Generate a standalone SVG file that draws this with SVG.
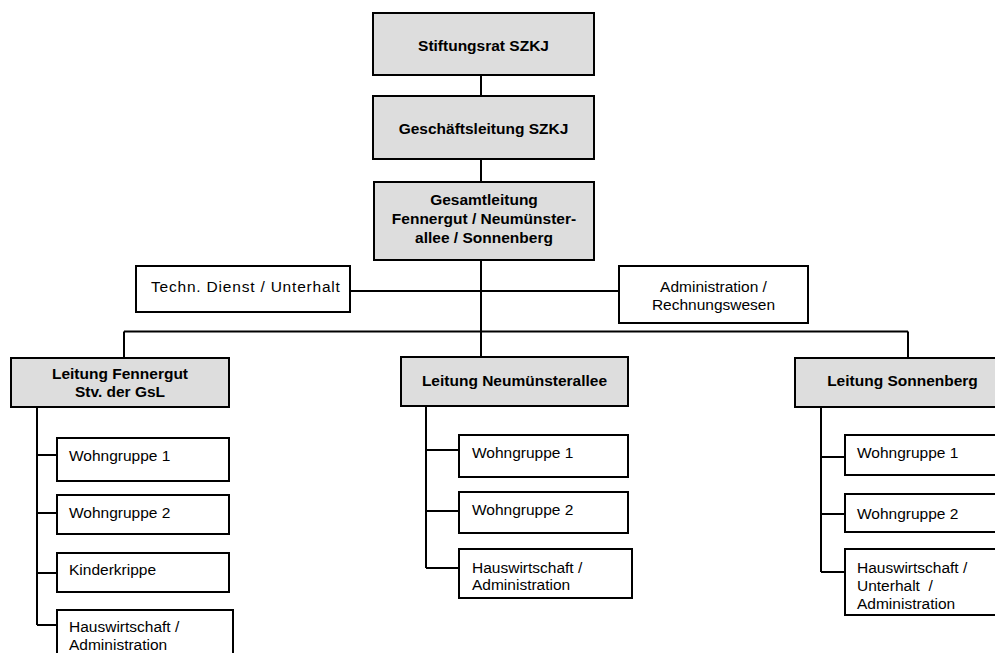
<svg xmlns="http://www.w3.org/2000/svg" width="995" height="653" viewBox="0 0 995 653">
<style>
.g{fill:#dddddd;stroke:#000;stroke-width:2}
.w{fill:#fff;stroke:#000;stroke-width:2}
.b{font-family:"Liberation Sans",Arial,sans-serif;font-size:15.5px;font-weight:bold;fill:#000;text-anchor:middle}
.t{font-family:"Liberation Sans",Arial,sans-serif;font-size:15.5px;fill:#000;white-space:pre}
.m{text-anchor:middle}
#connectors path{fill:none;stroke:#000;stroke-width:2}
</style>
<rect width="995" height="653" fill="#fff"/>
<g id="connectors">
<path d="M481,75V96M481,159V182M481,260V357"/>
<path d="M350,291H619"/>
<path d="M124,331.5H908M124,331.5V358M908,331.5V358"/>
<path d="M37,407V625M37,455H57M37,513H57M37,573H57M37,625H57"/>
<path d="M426,406V568M426,450H459M426,511H459M426,568H459"/>
<path d="M821,407V572M821,457H845M821,514H845M821,572H845"/>
</g>
<g id="stiftungsrat"><rect class="g" x="373" y="13" width="221" height="62"/><text class="b" x="483.5" y="51">Stiftungsrat SZKJ</text></g>
<g id="geschaeftsleitung"><rect class="g" x="373" y="96" width="221" height="63"/><text class="b" x="483.5" y="133.5">Geschäftsleitung SZKJ</text></g>
<g id="gesamtleitung"><rect class="g" x="374" y="182" width="220" height="78"/><text class="b" x="484"><tspan x="484" y="205">Gesamtleitung</tspan><tspan x="484" y="224">Fennergut / Neumünster-</tspan><tspan x="484" y="243">allee / Sonnenberg</tspan></text></g>
<g id="technischer-dienst"><rect class="w" x="136" y="266" width="214" height="46"/><text class="t" x="151" y="292" letter-spacing="0.8">Techn. Dienst / Unterhalt</text></g>
<g id="administration"><rect class="w" x="619" y="266" width="189" height="57"/><text class="t m"><tspan x="713.5" y="292">Administration /</tspan><tspan x="713.5" y="309.5">Rechnungswesen</tspan></text></g>
<g id="leitung-fennergut"><rect class="g" x="11" y="358" width="218" height="49"/><text class="b"><tspan x="120" y="379">Leitung Fennergut</tspan><tspan x="120" y="397">Stv. der GsL</tspan></text></g>
<g id="leitung-neumuensterallee"><rect class="g" x="401" y="357" width="227" height="49"/><text class="b" x="514.5" y="386">Leitung Neumünsterallee</text></g>
<g id="leitung-sonnenberg"><rect class="g" x="795" y="358" width="215" height="49"/><text class="b" x="902.5" y="386">Leitung Sonnenberg</text></g>
<g id="f-wg1"><rect class="w" x="57" y="438" width="172" height="43"/><text class="t" x="69" y="461">Wohngruppe 1</text></g>
<g id="f-wg2"><rect class="w" x="57" y="495" width="172" height="39"/><text class="t" x="69" y="518">Wohngruppe 2</text></g>
<g id="f-kinderkrippe"><rect class="w" x="57" y="553" width="172" height="39"/><text class="t" x="69" y="575">Kinderkrippe</text></g>
<g id="f-hauswirtschaft"><rect class="w" x="57" y="610" width="176" height="60"/><text class="t"><tspan x="69" y="632">Hauswirtschaft /</tspan><tspan x="69" y="650">Administration</tspan></text></g>
<g id="n-wg1"><rect class="w" x="459" y="435" width="169" height="42"/><text class="t" x="472" y="458">Wohngruppe 1</text></g>
<g id="n-wg2"><rect class="w" x="459" y="492" width="169" height="41"/><text class="t" x="472" y="515">Wohngruppe 2</text></g>
<g id="n-hauswirtschaft"><rect class="w" x="459" y="549" width="173" height="49"/><text class="t"><tspan x="472" y="573">Hauswirtschaft /</tspan><tspan x="472" y="590">Administration</tspan></text></g>
<g id="s-wg1"><rect class="w" x="845" y="435" width="165" height="40"/><text class="t" x="857" y="458">Wohngruppe 1</text></g>
<g id="s-wg2"><rect class="w" x="845" y="494" width="165" height="38"/><text class="t" x="857" y="519">Wohngruppe 2</text></g>
<g id="s-hauswirtschaft"><rect class="w" x="845" y="549" width="165" height="66"/><text class="t"><tspan x="857" y="573">Hauswirtschaft /</tspan><tspan x="857" y="591">Unterhalt  /</tspan><tspan x="857" y="609">Administration</tspan></text></g>
</svg>
